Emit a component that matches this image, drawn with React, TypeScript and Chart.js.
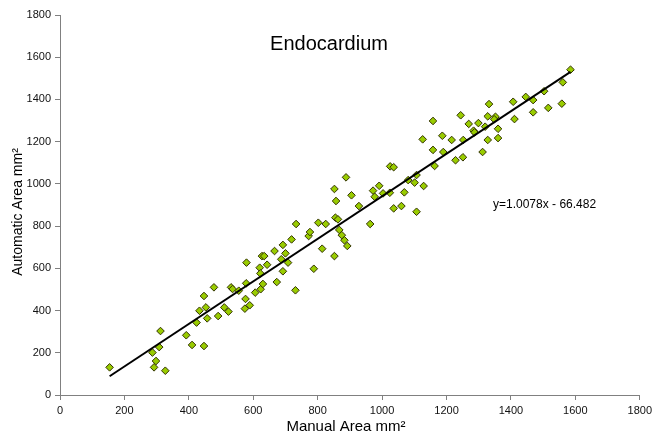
import React, { useEffect, useRef } from "react";
import { Chart, registerables } from "chart.js";

Chart.register(...registerables);

const chartTitle = "Endocardium";
const xAxisTitle = "Manual Area mm²";
const yAxisTitle = "Automatic Area mm²";
const equationText = "y=1.0078x - 66.482";
const slope = 1.0078;
const intercept = -66.482;

const axisMin = 0;
const axisMax = 1800;
const axisStep = 200;

const manualArea = [
  154, 287, 292, 298, 312, 308, 327, 392, 410, 424, 447, 447, 433, 453, 457, 478, 491,
  510, 523, 531, 536, 555, 579, 578, 576, 574, 589, 606, 623, 630, 620, 627, 634, 622,
  643, 666, 673, 692, 700, 687, 692, 708, 719, 731, 733, 772, 776, 788, 802, 814, 825,
  852, 852, 857, 855, 863, 867, 875, 883, 892, 888, 905, 928, 963, 972, 977, 991, 1003,
  1025, 1036, 1036, 1024, 1060, 1069, 1081, 1101, 1107, 1107, 1129, 1126, 1158, 1158,
  1163, 1187, 1190, 1216, 1228, 1244, 1252, 1251, 1269, 1284, 1299, 1287, 1312, 1328,
  1332, 1328, 1320, 1352, 1348, 1360, 1360, 1407, 1411, 1446, 1469, 1469, 1516, 1558,
  1503, 1561, 1585,
];

const automaticArea = [
  131, 201, 131, 161, 303, 227, 115, 283, 237, 343, 232, 469, 399, 415, 363, 510, 374,
  415, 395, 510, 502, 494, 627, 529, 455, 409, 425, 485, 501, 526, 603, 658, 658, 576,
  617, 682, 535, 711, 671, 643, 586, 627, 737, 496, 810, 753, 772, 598, 816, 693, 810,
  658, 976, 919, 840, 832, 782, 757, 733, 706, 1031, 946, 895, 810, 968, 939, 991, 955,
  1083, 1079, 884, 958, 895, 960, 1018, 1006, 1042, 868, 990, 1211, 1298, 1161,
  1085, 1228, 1151, 1208, 1112, 1325, 1208, 1126, 1284, 1252, 1288, 1244, 1151, 1320,
  1378, 1208, 1271, 1318, 1306, 1261, 1217, 1389, 1307, 1412, 1397, 1339, 1360, 1380,
  1439, 1481, 1541,
];

const FONT = "'Liberation Sans', Arial, sans-serif";

export default function App() {
  const canvasRef = useRef<HTMLCanvasElement | null>(null);

  useEffect(() => {
    const canvas = canvasRef.current;
    if (!canvas) return;

    const points = manualArea.map((x, i) => ({ x, y: automaticArea[i] }));
    const xMin = Math.min(...manualArea);
    const xMax = Math.max(...manualArea);
    const trend = [
      { x: xMin, y: slope * xMin + intercept },
      { x: xMax, y: slope * xMax + intercept },
    ];

    const textPlugin = {
      id: "texts",
      afterDraw(chart: any) {
        const ctx = chart.ctx as CanvasRenderingContext2D;
        ctx.save();
        ctx.fillStyle = "#000";
        ctx.textAlign = "center";
        ctx.textBaseline = "alphabetic";
        ctx.font = `20px ${FONT}`;
        ctx.fillText(chartTitle, 329, 50);

        ctx.font = `12px ${FONT}`;
        ctx.textAlign = "left";
        ctx.fillText(equationText, 493, 208);

        ctx.font = `15px ${FONT}`;
        ctx.textAlign = "center";
        ctx.fillText(xAxisTitle, 346, 431);

        ctx.translate(22, 212);
        ctx.rotate(-Math.PI / 2);
        ctx.font = `14px ${FONT}`;
        ctx.fillText(yAxisTitle, 0, 0);
        ctx.restore();
      },
    };

    const tickFont = { family: FONT, size: 11 };
    const plainLabel = (v: any) => String(v);

    const chart = new Chart(canvas, {
      type: "scatter",
      data: {
        datasets: [
          {
            type: "line",
            data: trend,
            borderColor: "#000",
            borderWidth: 2,
            pointRadius: 0,
            fill: false,
            order: 0,
          } as any,
          {
            data: points,
            pointStyle: "rectRot",
            pointRadius: 3.8,
            pointBackgroundColor: "#99cc00",
            pointBorderColor: "#333300",
            pointBorderWidth: 1,
            order: 1,
          },
        ],
      },
      options: {
        responsive: false,
        animation: false,
        layout: { padding: { top: 15, right: 13, bottom: 0, left: 0 } },
        plugins: {
          legend: { display: false },
          tooltip: { enabled: false },
          title: { display: false },
        },
        scales: {
          x: {
            type: "linear",
            min: axisMin,
            max: axisMax,
            ticks: { stepSize: axisStep, font: tickFont, color: "#111", padding: 4, maxRotation: 0, callback: plainLabel },
            grid: { display: true, drawOnChartArea: false, drawTicks: true, tickLength: 5, color: "#808080" },
            border: { color: "#808080", width: 1 },
            afterFit: (s: any) => {
              s.height = 42;
            },
          },
          y: {
            type: "linear",
            min: axisMin,
            max: axisMax,
            ticks: { stepSize: axisStep, font: tickFont, color: "#111", padding: 4, callback: plainLabel },
            grid: { display: true, drawOnChartArea: false, drawTicks: true, tickLength: 5, color: "#808080" },
            border: { color: "#808080", width: 1 },
            afterFit: (s: any) => {
              s.width = 60;
            },
          },
        },
      },
      plugins: [textPlugin],
    });

    return () => chart.destroy();
  }, []);

  return (
    <div style={{ position: "fixed", left: 0, top: 0, width: 656, height: 437, background: "#fff" }}>
      <canvas ref={canvasRef} width={656} height={437} style={{ display: "block" }} />
    </div>
  );
}
